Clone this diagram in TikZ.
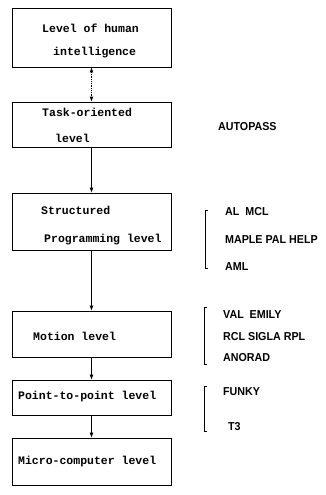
\documentclass[tikz,border=0pt]{standalone}
\usepackage{fontspec}
\usetikzlibrary{arrows.meta}
\newfontfamily\boxfont{Liberation Mono}
\newfontfamily\sidefont{Liberation Sans}
\begin{document}
\begin{tikzpicture}[x=1pt,y=-1pt,
  lvl/.style={draw,line width=0.8pt,minimum width=159pt,inner sep=0pt},
  bt/.style={anchor=west,inner sep=0pt,font=\boxfont\bfseries\fontsize{11.5}{13}\selectfont},
  st/.style={anchor=west,inner sep=0pt,font=\sidefont\bfseries\fontsize{11.5}{13}\selectfont,xscale=0.93,transform shape},
  arr/.style={-{Latex[length=5pt,width=4pt]},line width=0.8pt},
  brk/.style={line width=0.9pt}]
\useasboundingbox (0,0) rectangle (325,495);
% boxes
\node[lvl,minimum height=59pt] (b1) at (91.5,37.5) {};
\node[lvl,minimum height=45pt] (b2) at (91.5,124.5) {};
\node[lvl,minimum height=57pt] (b3) at (91.5,221.5) {};
\node[lvl,minimum height=46pt] (b4) at (91.5,334) {};
\node[lvl,minimum height=35pt] (b5) at (91.5,397.5) {};
\node[lvl,minimum height=47pt] (b6) at (91.5,461.5) {};
% box texts
\node[bt] (t1a) at (42,28) {Level of human};
\node[bt] (t1b) at (53,53) {intelligence};
\node[bt] (t2a) at (42,112) {Task-oriented};
\node[bt] (t2b) at (55,138) {level};
\node[bt] (t3a) at (41,210) {Structured};
\node[bt] (t3b) at (44,240) {Programming level};
\node[bt] (t4) at (33,336) {Motion level};
\node[bt] (t5) at (18,397) {Point-to-point level};
\node[bt] (t6) at (18,462) {Micro-computer level};
% connectors
\draw[line width=0.8pt,densely dotted,{Latex[length=5pt,width=4pt]}-{Latex[length=5pt,width=4pt]}] (b1.south) -- (b2.north);
\draw[arr] (b2.south) -- (b3.north);
\draw[arr] (b3.south) -- (b4.north);
\draw[arr] (b4.south) -- (b5.north);
\draw[arr] (b5.south) -- (b6.north);
% side texts
\node[st] (ap) at (218,127) {AUTOPASS};
\node[st] (s1) at (225,212) {AL\ \ MCL};
\node[st] (s2) at (225,240) {MAPLE PAL HELP};
\node[st] (s3) at (225,267) {AML};
\node[st] (s4) at (223,315) {VAL\ \ EMILY};
\node[st] (s5) at (223,337) {RCL SIGLA RPL};
\node[st] (s6) at (223,358) {ANORAD};
\node[st] (s7) at (223,392) {FUNKY};
\node[st] (s8) at (228,427) {T3};
% brackets
\draw[brk] (208,210) -- (205,210) -- (205,268) -- (208,268);
\draw[brk] (207,307) -- (204,307) -- (204,364) -- (207,364);
\draw[brk] (207,386) -- (204,386) -- (204,431) -- (207,431);
\end{tikzpicture}
\end{document}
